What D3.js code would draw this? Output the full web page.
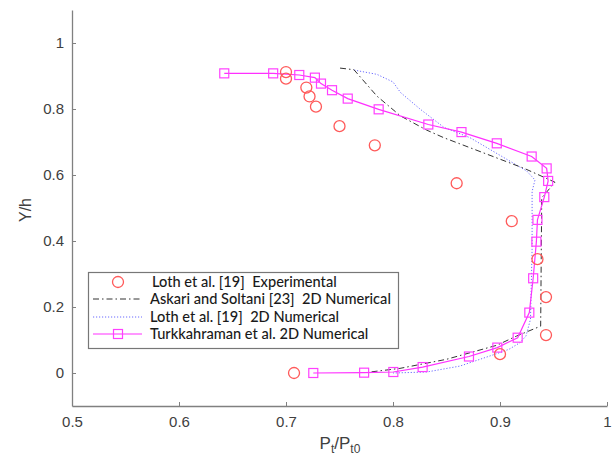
<!DOCTYPE html>
<html>
<head>
<meta charset="utf-8">
<script src="https://d3js.org/d3.v7.min.js"></script>
<style>
  body { margin: 0; background: #fff; }
  svg text { font-family: "Liberation Sans", Arial, sans-serif; }
  .legendtext { font-family: Lato, "Open Sans", sans-serif; white-space: pre; }
</style>
</head>
<body>
<div id="chart"></div>
<script>

// Experimental points, Loth et al. [19]
var lothExpX = [0.7075, 0.900, 0.943, 0.943, 0.935, 0.911, 0.8595, 0.783, 0.750, 0.728, 0.722, 0.719, 0.700, 0.700];
var lothExpY = [0.000, 0.057, 0.115, 0.230, 0.345, 0.460, 0.575, 0.690, 0.748, 0.807, 0.838, 0.865, 0.892, 0.912];

// Askari and Soltani [23] 2D numerical
var askariX = [0.7505, 0.7635, 0.785, 0.807, 0.8315, 0.8475, 0.9234, 0.9514, 0.939, 0.938, 0.9155, 0.897, 0.850, 0.8065, 0.7785];
var askariY = [0.924, 0.919, 0.839, 0.779, 0.736, 0.713, 0.619, 0.578, 0.531, 0.142, 0.112, 0.084, 0.0415, 0.014, 0.003];

// Loth et al. [19] 2D numerical
var lothNumX = [0.7636, 0.785, 0.800, 0.807, 0.8256, 0.8477, 0.872, 0.925, 0.9327, 0.930, 0.930, 0.9285, 0.9243, 0.9187, 0.9085, 0.900, 0.8626, 0.8315, 0.800];
var lothNumY = [0.918, 0.905, 0.882, 0.850, 0.799, 0.744, 0.713, 0.612, 0.585, 0.550, 0.375, 0.163, 0.112, 0.092, 0.072, 0.062, 0.021, 0.003, 0.000];

// Turkkahraman et al. 2D numerical
var turkX = [0.6423, 0.688, 0.7124, 0.727, 0.7327, 0.743, 0.7577, 0.7866, 0.833, 0.864, 0.897, 0.9296, 0.9436, 0.945, 0.9414, 0.935, 0.934, 0.931, 0.9274, 0.9165, 0.8975, 0.871, 0.8277, 0.8003, 0.773, 0.7255];
var turkY = [0.908, 0.908, 0.903, 0.895, 0.877, 0.857, 0.8315, 0.799, 0.753, 0.730, 0.696, 0.656, 0.620, 0.582, 0.533, 0.464, 0.398, 0.287, 0.183, 0.107, 0.077, 0.050, 0.018, 0.003, 0.001, 0.000];

var xTicks = [0.5, 0.6, 0.7, 0.8, 0.9, 1];
var yTicks = [0, 0.2, 0.4, 0.6, 0.8, 1];

var legendLabels = [
  "Loth et al. [19]  Experimental",
  "Askari and Soltani [23]  2D Numerical",
  "Loth et al. [19]  2D Numerical",
  "Turkkahraman et al. 2D Numerical"
];

var width = 616, height = 459;
var axisColor = "#808080";

var svg = d3.select("#chart").append("svg")
    .attr("width", width)
    .attr("height", height);

var x = d3.scaleLinear().domain([0.5, 1]).range([72, 607]);
var y = d3.scaleLinear().domain([-0.1, 1.1]).range([406, 10]);

function zip(xs, ys){
  return xs.map(function(v, i){ return [v, ys[i]]; });
}

//axes, matlab style with ticks pointing inside
var xAxis = d3.axisBottom(x).tickValues(xTicks).tickSizeInner(-4).tickSizeOuter(0)
    .tickPadding(10).tickFormat(d3.format("~g"));
var yAxis = d3.axisLeft(y).tickValues(yTicks).tickSizeInner(-4).tickSizeOuter(0)
    .tickPadding(8).tickFormat(d3.format("~g"));

var gx = svg.append("g").attr("transform", "translate(0," + y(-0.1) + ")").call(xAxis);
var gy = svg.append("g").attr("transform", "translate(" + x(0.5) + ",0)").call(yAxis);

[gx, gy].forEach(function(g){
  g.select(".domain").attr("stroke", axisColor).attr("stroke-width", 1.3);
  g.selectAll(".tick line").attr("stroke", axisColor);
  g.selectAll(".tick text").attr("fill", "#404040").style("font-size", "15px");
});

// axis titles
svg.append("text")
    .attr("transform", "translate(31,210) rotate(-90)")
    .attr("text-anchor", "middle")
    .attr("fill", "#404040")
    .style("font-size", "16px")
    .text("Y/h");

var xt = svg.append("text")
    .attr("x", 340)
    .attr("y", 449)
    .attr("text-anchor", "middle")
    .attr("fill", "#404040")
    .style("font-size", "17px");
xt.append("tspan").text("P");
xt.append("tspan").attr("dy", 4).style("font-size", "12px").text("t");
xt.append("tspan").attr("dy", -4).text("/P");
xt.append("tspan").attr("dy", 4).style("font-size", "12px").text("t0");

var line = d3.line()
    .x(function(d){ return x(d[0]); })
    .y(function(d){ return y(d[1]); });

var plot = svg.append("g");

plot.append("path")
    .datum(zip(lothNumX, lothNumY))
    .attr("d", line)
    .attr("fill", "none")
    .attr("stroke", "#6b6bff")
    .attr("stroke-width", 1)
    .attr("stroke-dasharray", "1.2,1.8");

plot.append("path")
    .datum(zip(askariX, askariY))
    .attr("d", line)
    .attr("fill", "none")
    .attr("stroke", "#333")
    .attr("stroke-width", 1)
    .attr("stroke-dasharray", "6,3,1.5,3");

plot.append("path")
    .datum(zip(turkX, turkY))
    .attr("d", line)
    .attr("fill", "none")
    .attr("stroke", "#ff30ff")
    .attr("stroke-width", 1.2);

plot.selectAll("rect.turk")
    .data(zip(turkX, turkY))
    .enter()
    .append("rect")
    .attr("class", "turk")
    .attr("x", function(d){ return x(d[0]) - 4.5; })
    .attr("y", function(d){ return y(d[1]) - 4.5; })
    .attr("width", 9)
    .attr("height", 9)
    .attr("fill", "none")
    .attr("stroke", "#ff40ff")
    .attr("stroke-width", 1.2);

plot.selectAll("circle.exp")
    .data(zip(lothExpX, lothExpY))
    .enter()
    .append("circle")
    .attr("class", "exp")
    .attr("cx", function(d){ return x(d[0]); })
    .attr("cy", function(d){ return y(d[1]); })
    .attr("r", 5.5)
    .attr("fill", "none")
    .attr("stroke", "#ff5a5a")
    .attr("stroke-width", 1.3);

// legend
var legend = svg.append("g");
legend.append("rect")
    .attr("x", 88.5).attr("y", 272.5)
    .attr("width", 310).attr("height", 76)
    .attr("fill", "#fff")
    .attr("stroke", "#777")
    .attr("stroke-width", 1.2);

var rowY = [282, 299, 317, 334];
var sx1 = 93, sx2 = 142, sxm = 118;

legend.append("circle").attr("cx", sxm).attr("cy", rowY[0]).attr("r", 5.5)
    .attr("fill", "none").attr("stroke", "#ff5a5a").attr("stroke-width", 1.3);
legend.append("line").attr("x1", sx1).attr("x2", sx2).attr("y1", rowY[1]).attr("y2", rowY[1])
    .attr("stroke", "#333").attr("stroke-dasharray", "6,3,1.5,3");
legend.append("line").attr("x1", sx1).attr("x2", sx2).attr("y1", rowY[2]).attr("y2", rowY[2])
    .attr("stroke", "#6b6bff").attr("stroke-dasharray", "1.2,1.8");
legend.append("line").attr("x1", sx1).attr("x2", sx2).attr("y1", rowY[3]).attr("y2", rowY[3])
    .attr("stroke", "#ff30ff").attr("stroke-width", 1.2);
legend.append("rect").attr("x", sxm - 4.5).attr("y", rowY[3] - 4.5).attr("width", 9).attr("height", 9)
    .attr("fill", "none").attr("stroke", "#ff40ff").attr("stroke-width", 1.2);

legend.selectAll("text")
    .data(legendLabels)
    .enter()
    .append("text")
    .attr("class", "legendtext")
    .attr("x", function(d, i){ return i == 0 ? 152 : 150; })
    .attr("y", function(d, i){ return rowY[i] + 5; })
    .attr("fill", "#1a1a1a")
    .style("font-size", "14.6px")
    .style("font-weight", 500)
    .text(function(d){ return d; });

</script>
</body>
</html>
